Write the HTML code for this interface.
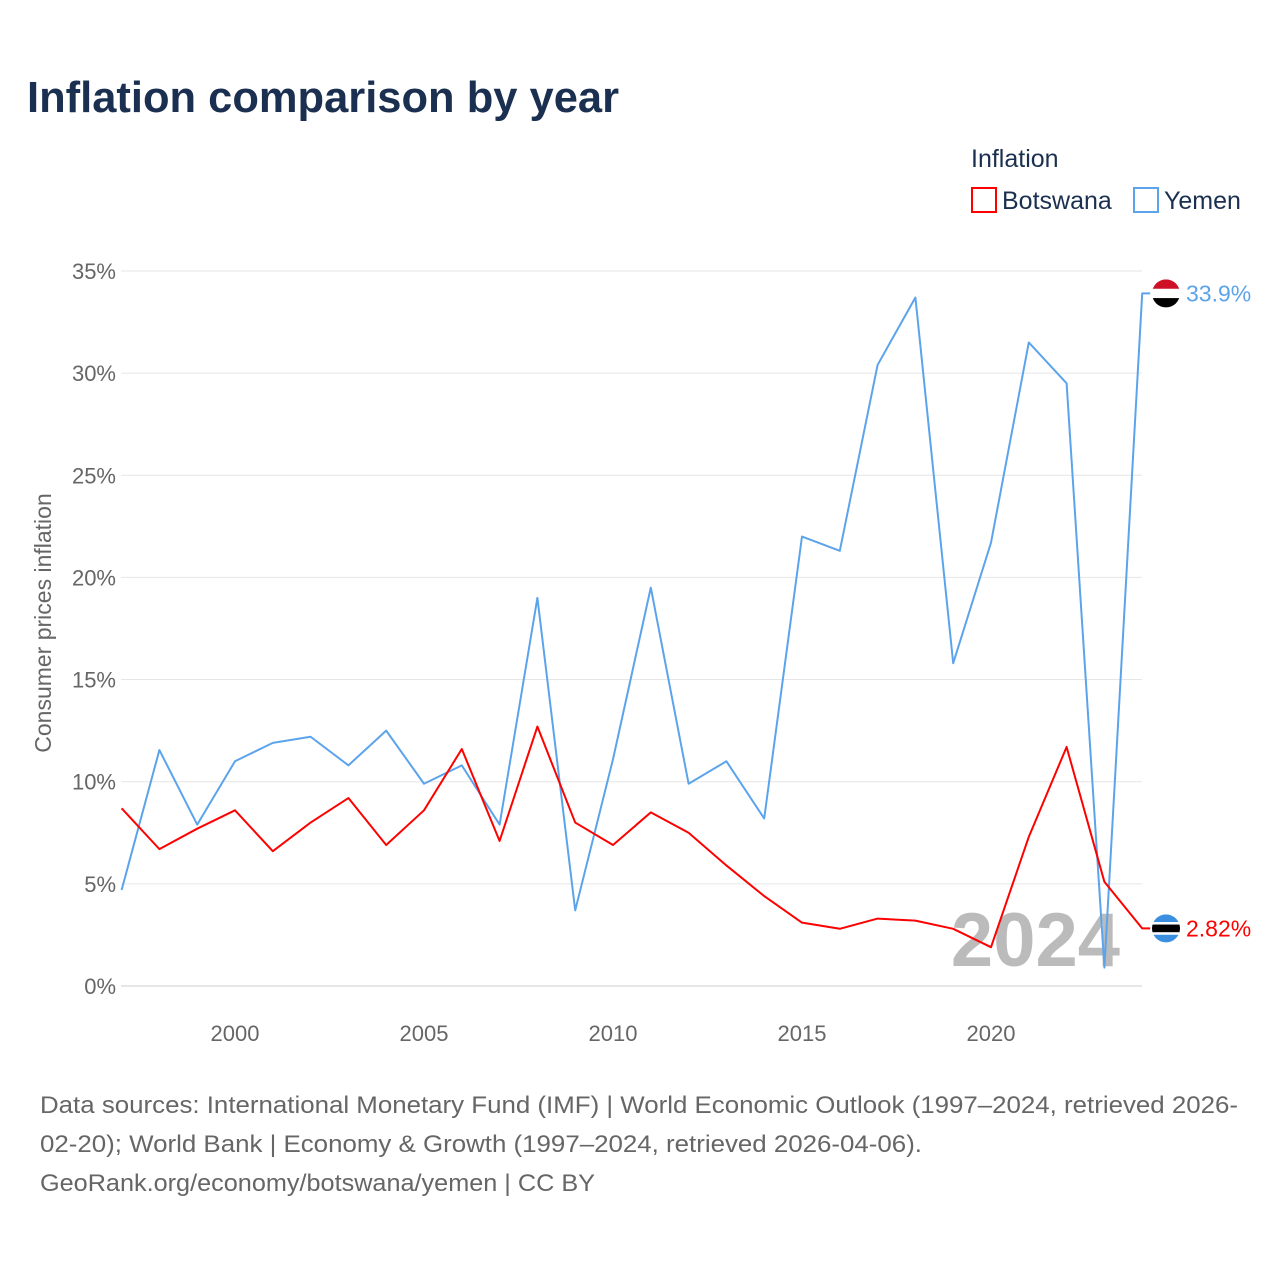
<!DOCTYPE html>
<html><head><meta charset="utf-8"><style>
body{margin:0;background:#fff;font-family:"Liberation Sans",sans-serif;}
</style></head><body>
<svg width="1280" height="1280" xmlns="http://www.w3.org/2000/svg" id="chart" font-family="Liberation Sans, sans-serif">
<rect width="1280" height="1280" fill="#fff"/>
<text x="27" y="112" font-size="44" font-weight="bold" fill="#1b3050" textLength="592" lengthAdjust="spacingAndGlyphs">Inflation comparison by year</text>
<text x="971" y="167" font-size="25" fill="#1b3050">Inflation</text>
<g><rect x="972" y="188" width="24" height="24" fill="none" stroke="#f00" stroke-width="2"/><text x="1002" y="209" font-size="25" fill="#1b3050">Botswana</text></g>
<g><rect x="1134" y="188" width="24" height="24" fill="none" stroke="#5ba4ec" stroke-width="2"/><text x="1164" y="209" font-size="25" fill="#1b3050">Yemen</text></g>
<text transform="translate(51,623) rotate(-90)" text-anchor="middle" font-size="23" fill="#666">Consumer prices inflation</text>
<g id="grid"></g><g id="ylabels"></g><g id="xlabels"></g>
<text x="1120" y="966" text-anchor="end" font-size="76" font-weight="bold" fill="#bbb">2024</text>
<g id="series"></g>
<text x="40" y="1113" font-size="24" fill="#666" textLength="1198" lengthAdjust="spacingAndGlyphs">Data sources: International Monetary Fund (IMF) | World Economic Outlook (1997–2024, retrieved 2026-</text>
<text x="40" y="1152" font-size="24" fill="#666" textLength="882" lengthAdjust="spacingAndGlyphs">02-20); World Bank | Economy &amp; Growth (1997–2024, retrieved 2026-04-06).</text>
<text x="40" y="1191" font-size="24" fill="#666" textLength="555" lengthAdjust="spacingAndGlyphs">GeoRank.org/economy/botswana/yemen | CC BY</text>
</svg>
<script>
const years=[1997,1998,1999,2000,2001,2002,2003,2004,2005,2006,2007,2008,2009,2010,2011,2012,2013,2014,2015,2016,2017,2018,2019,2020,2021,2022,2023,2024];
const yemen=[4.7,11.55,7.9,11.0,11.9,12.2,10.8,12.5,9.9,10.8,7.9,19.0,3.7,11.1,19.5,9.9,11.0,8.2,22.0,21.3,30.4,33.7,15.8,21.7,31.5,29.5,0.9,33.9];
const botswana=[8.7,6.7,7.7,8.6,6.6,8.0,9.2,6.9,8.6,11.6,7.1,12.7,8.0,6.9,8.5,7.5,5.9,4.4,3.1,2.8,3.3,3.2,2.8,1.9,7.3,11.7,5.1,2.82];
const yTicks=[0,5,10,15,20,25,30,35];
const xTicks=[2000,2005,2010,2015,2020];
const NS="http://www.w3.org/2000/svg";
const x=v=>121.6+(v-1997)*37.8;
const y=v=>986-v*20.43;
function mk(p,t,a){const e=document.createElementNS(NS,t);for(const k in a)e.setAttribute(k,a[k]);p.appendChild(e);return e;}
const grid=document.getElementById('grid'),yl=document.getElementById('ylabels'),xl=document.getElementById('xlabels'),sr=document.getElementById('series');
yTicks.forEach(t=>{
 const l=mk(grid,'line',{x1:121,x2:1142,y1:y(t),y2:y(t),stroke:t===0?'#ccc':'#e6e6e6','stroke-width':1});
 
 
 const tx=mk(yl,'text',{x:116,y:y(t)+8,'text-anchor':'end','font-size':22,fill:'#666'});tx.textContent=t+'%';
 
 
});
xTicks.forEach(t=>{
 const tx=mk(xl,'text',{x:x(t),y:1041,'text-anchor':'middle','font-size':22,fill:'#666'});tx.textContent=t;
 
 
});
function series(vals,color,name,label,flag){
 const pts=vals.map((v,i)=>x(years[i])+','+y(v)).join(' ')+' '+(x(2024)+8)+','+y(vals[vals.length-1]);
 const pl=mk(sr,'polyline',{points:pts,fill:'none',stroke:color,'stroke-width':2,'stroke-linejoin':'round'});
 
 
 const ly=y(vals[vals.length-1]);
 const g=mk(sr,'g',{});
 
 
 const cp=mk(g,'clipPath',{id:'c'+name});mk(cp,'circle',{cx:1166,cy:ly,r:14});
 const gg=mk(g,'g',{'clip-path':'url(#c'+name+')'});
 flag.forEach((c,i)=>mk(gg,'rect',{x:1152,y:ly-14+i*28/flag.length,width:28,height:28/flag.length+0.5,fill:c}));
 const t=mk(sr,'text',{x:1186,y:ly+8,'font-size':23,fill:color});t.textContent=label;
 
 
}
series(yemen,'#5ba4ec','yemen',yemen[yemen.length-1].toFixed(1)+'%',['#ce1126','#fff','#000']);
series(botswana,'#f00','botswana',botswana[botswana.length-1]+'%',['#3a8fe0','#3a8fe0','#3a8fe0','#fff','#000','#000','#000','#fff','#3a8fe0','#3a8fe0','#3a8fe0']);
</script>
</body></html>
